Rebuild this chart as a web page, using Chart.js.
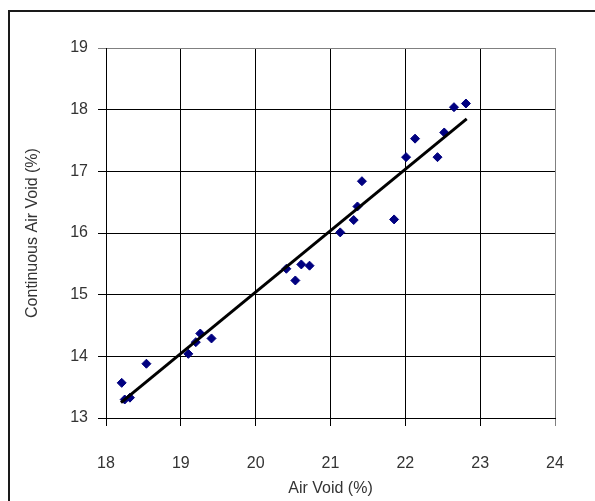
<!DOCTYPE html>
<html>
<head>
<meta charset="utf-8">
<script src="https://cdn.jsdelivr.net/npm/chart.js@4/dist/chart.umd.min.js"></script>
<style>
  html, body { margin: 0; padding: 0; background: #ffffff; }
  #wrap { width: 595px; height: 501px; position: relative; }
  canvas { display: block; }
</style>
</head>
<body>
<div id="wrap"><canvas id="chart" width="595" height="501"></canvas></div>
<script>
// Measured samples: total air void vs. continuous (interconnected) air void, %
const airVoid = [18.21, 18.25, 18.32, 18.54, 19.10, 19.20, 19.26, 19.41,
                 20.41, 20.53, 20.61, 20.72, 21.13, 21.31, 21.36, 21.42,
                 21.85, 22.01, 22.13, 22.43, 22.52, 22.65, 22.81];
const continuousAirVoid = [13.57, 13.30, 13.33, 13.88, 14.04, 14.23, 14.37, 14.29,
                           15.42, 15.23, 15.49, 15.47, 16.01, 16.21, 16.43, 16.84,
                           16.22, 17.23, 17.53, 17.23, 17.63, 18.04, 18.10];

// Linear trend line end points
const trendX = [18.20, 22.82];
const trendY = [13.25, 17.85];

// Axis ticks
const xTicks = [18, 19, 20, 21, 22, 23, 24];
const yTicks = [13, 14, 15, 16, 17, 18, 19];

const FONT = "'Liberation Sans', Arial, Helvetica, sans-serif";

const samplePoints = airVoid.map((x, i) => ({ x: x, y: continuousAirVoid[i] }));
const trendPoints = trendX.map((x, i) => ({ x: x, y: trendY[i] }));

// White page background and the outer chart frame
const framePlugin = {
  id: 'frame',
  beforeDraw(chart) {
    const ctx = chart.ctx;
    ctx.save();
    ctx.fillStyle = '#ffffff';
    ctx.fillRect(0, 0, chart.width, chart.height);
    ctx.strokeStyle = '#1a1a1a';
    ctx.lineWidth = 2;
    ctx.strokeRect(9, 11, chart.width + 20, chart.height + 20);
    ctx.restore();
  }
};

new Chart(document.getElementById('chart'), {
  type: 'scatter',
  data: {
    datasets: [
      {
        label: 'Trend',
        data: trendPoints,
        showLine: true,
        borderColor: '#000000',
        borderWidth: 3,
        pointRadius: 0,
        pointHoverRadius: 0,
        fill: false
      },
      {
        label: 'Samples',
        data: samplePoints,
        pointStyle: 'rectRot',
        pointRadius: 4.5,
        pointHoverRadius: 4.5,
        backgroundColor: '#000080',
        borderColor: '#000080',
        borderWidth: 1
      }
    ]
  },
  options: {
    responsive: false,
    animation: false,
    devicePixelRatio: 1,
    layout: { padding: { top: 48, right: 40, left: 0, bottom: 0 } },
    plugins: {
      legend: { display: false },
      tooltip: { enabled: false }
    },
    scales: {
      x: {
        type: 'linear',
        min: xTicks[0],
        max: xTicks[xTicks.length - 1],
        afterBuildTicks: (scale) => { scale.ticks = xTicks.map(v => ({ value: v })); },
        afterFit: (scale) => { scale.height = 83; },
        ticks: {
          color: '#333333',
          font: { family: FONT, size: 16 },
          padding: 28,
          maxRotation: 0,
          callback: (v) => String(v)
        },
        grid: {
          color: (c) => (c.tick && c.tick.value === 24 ? '#808080' : '#000000'),
          lineWidth: 1,
          tickLength: 8,
          drawTicks: true
        },
        border: { display: true, color: '#000000', width: 1 },
        title: {
          display: true,
          text: 'Air Void (%)',
          color: '#333333',
          font: { family: FONT, size: 16 },
          padding: { top: 0, bottom: 3 }
        }
      },
      y: {
        type: 'linear',
        min: yTicks[0],
        max: yTicks[yTicks.length - 1],
        afterBuildTicks: (scale) => { scale.ticks = yTicks.map(v => ({ value: v })); },
        afterFit: (scale) => { scale.width = 106; },
        ticks: {
          color: '#333333',
          font: { family: FONT, size: 16 },
          padding: 10,
          callback: (v) => String(v)
        },
        grid: {
          color: (c) => (c.tick && c.tick.value === 19 ? '#808080' : '#000000'),
          lineWidth: 1,
          tickLength: 8,
          drawTicks: true
        },
        border: { display: true, color: '#000000', width: 1 },
        title: {
          display: true,
          text: 'Continuous Air Void (%)',
          color: '#333333',
          font: { family: FONT, size: 16 },
          padding: { top: 23, bottom: 0 }
        }
      }
    }
  },
  plugins: [framePlugin]
});
</script>
</body>
</html>
